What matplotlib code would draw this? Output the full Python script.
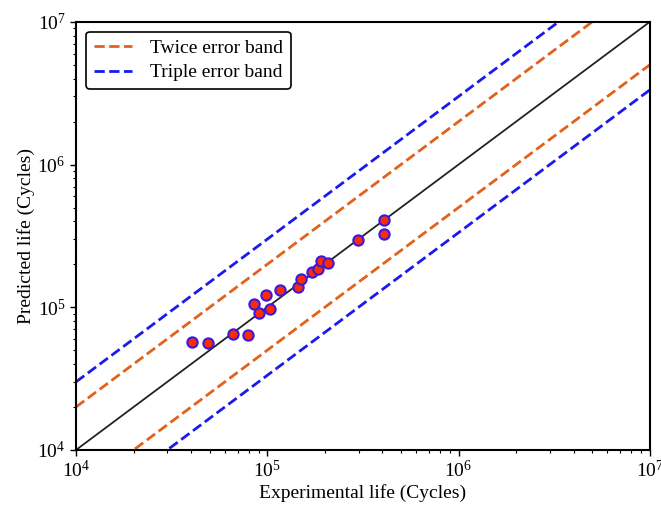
import numpy as np
import matplotlib
matplotlib.use("Agg")
import matplotlib.pyplot as plt

plt.rcParams['font.family'] = ['Liberation Serif', 'DejaVu Serif']
plt.rcParams['mathtext.fontset'] = 'stix'

#
# data
#
exp_life = [4.03e4, 4.92e4, 6.59e4, 7.90e4, 8.55e4, 9.02e4, 9.85e4, 1.03e5, 1.17e5,
            1.45e5, 1.51e5, 1.72e5, 1.85e5, 1.92e5, 2.07e5, 2.97e5, 4.09e5, 4.09e5]
pred_life = [5.74e4, 5.59e4, 6.49e4, 6.39e4, 1.05e5, 9.06e4, 1.22e5, 9.71e4, 1.32e5,
             1.38e5, 1.59e5, 1.77e5, 1.84e5, 2.11e5, 2.03e5, 2.96e5, 4.08e5, 3.24e5]

lims = [1e4, 1e7]
band_factors = [2, 3]
band_labels = ['Twice error band', 'Triple error band']
band_colors = ['#e2621b', '#1a1aee']

#
# plot
#
fig = plt.figure(figsize=(6.61, 5.09), dpi=100)
ax = fig.add_axes([0.115, 0.116, 0.868, 0.841])

xx = np.array(lims)
ax.plot(xx, xx, color='#222222', lw=1.3)
for f, lab, c in zip(band_factors, band_labels, band_colors):
    ax.plot(xx, xx * f, '--', color=c, lw=2, label=lab)
    ax.plot(xx, xx / f, '--', color=c, lw=2)

ax.scatter(exp_life, pred_life, s=55, c='#ff2a00', edgecolors='#3a1adf',
           linewidths=1.5, zorder=5)

ax.set_xscale('log')
ax.set_yscale('log')
ax.set_xlim(lims)
ax.set_ylim(lims)
ax.set_xlabel('Experimental life (Cycles)', fontsize=14, labelpad=2)
ax.set_ylabel('Predicted life (Cycles)', fontsize=14, labelpad=2)
ax.tick_params(which='both', direction='out', labelsize=14)
ax.tick_params(which='major', length=4, width=1)
ax.tick_params(which='minor', length=2.5, width=0.8)
for s in ax.spines.values():
    s.set_linewidth(1.5)

leg = ax.legend(loc='upper left', fontsize=14, frameon=True, fancybox=True,
                edgecolor='black', framealpha=1, handlelength=2.0,
                handletextpad=0.9, labelspacing=0.35)
leg.get_frame().set_linewidth(1.2)

fig.savefig('out.png', dpi=100)
